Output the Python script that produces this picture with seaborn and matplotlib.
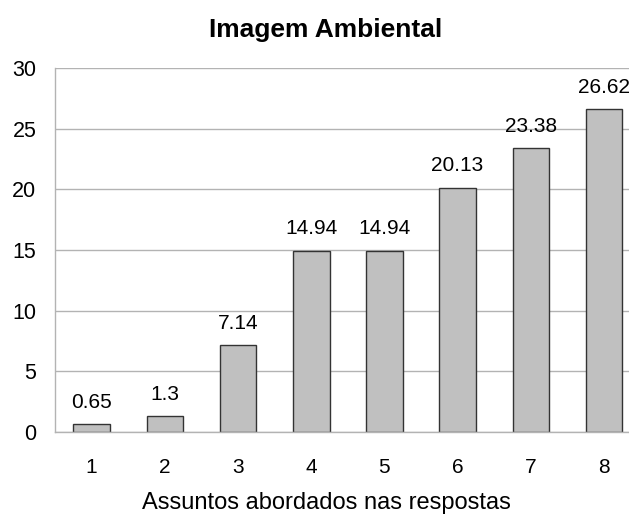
import numpy as np
import pandas as pd
import seaborn as sns
import matplotlib.pyplot as plt

# data
categories = ["1", "2", "3", "4", "5", "6", "7", "8"]
values = [0.65, 1.3, 7.14, 14.94, 14.94, 20.13, 23.38, 26.62]
value_labels = ["0.65", "1.3", "7.14", "14.94", "14.94", "20.13", "23.38", "26.62"]

df = pd.DataFrame({"assunto": categories, "pct": values})

sns.set_style("white")
plt.rcParams["font.family"] = ["Liberation Sans", "DejaVu Sans"]
plt.rcParams["text.color"] = "black"

W, H = 629, 516
fig = plt.figure(figsize=(W / 100, H / 100), dpi=100)
# axes runs past the right edge like in the reference (it is cut off there)
left, right, top, bottom = 55, 640.6, 68, 432
ax = fig.add_axes([left / W, 1 - bottom / H, (right - left) / W, (bottom - top) / H])

sns.barplot(data=df, x="assunto", y="pct", color="#c0c0c0", edgecolor="#333333",
            linewidth=1, width=0.5, saturation=1, ax=ax)

ax.set_ylim(0, 30)
ax.set_xlim(-0.5, 7.5)
ax.set_yticks(np.arange(0, 31, 5))
ax.yaxis.grid(True, color="#b3b3b3", linewidth=1)
ax.set_axisbelow(True)

for s in ["top", "right"]:
    ax.spines[s].set_visible(False)
for s in ["left", "bottom"]:
    ax.spines[s].set_color("#b3b3b3")
    ax.spines[s].set_linewidth(1)

ax.tick_params(axis="y", length=8.5, width=1, color="#b3b3b3", labelsize=15.5,
               pad=5, labelcolor="black")
ax.tick_params(axis="x", which="major", length=0, labelsize=15, pad=19,
               labelcolor="black")
ax.set_xticks(np.arange(-0.5, 8, 1), minor=True)
ax.tick_params(axis="x", which="minor", length=8, width=1, color="#b3b3b3")

ax.bar_label(ax.containers[0], labels=value_labels, padding=9, fontsize=15,
             color="black")

ax.set_xlabel("")
ax.set_ylabel("")
fig.text(326 / W, 1 - 30 / H, "Imagem Ambiental", ha="center", va="center",
         fontsize=19, fontweight="bold", color="black")
fig.text(326 / W, 1 - 503 / H, "Assuntos abordados nas respostas", ha="center",
         va="center", fontsize=17, color="black")

fig.savefig("out.png", dpi=100)
